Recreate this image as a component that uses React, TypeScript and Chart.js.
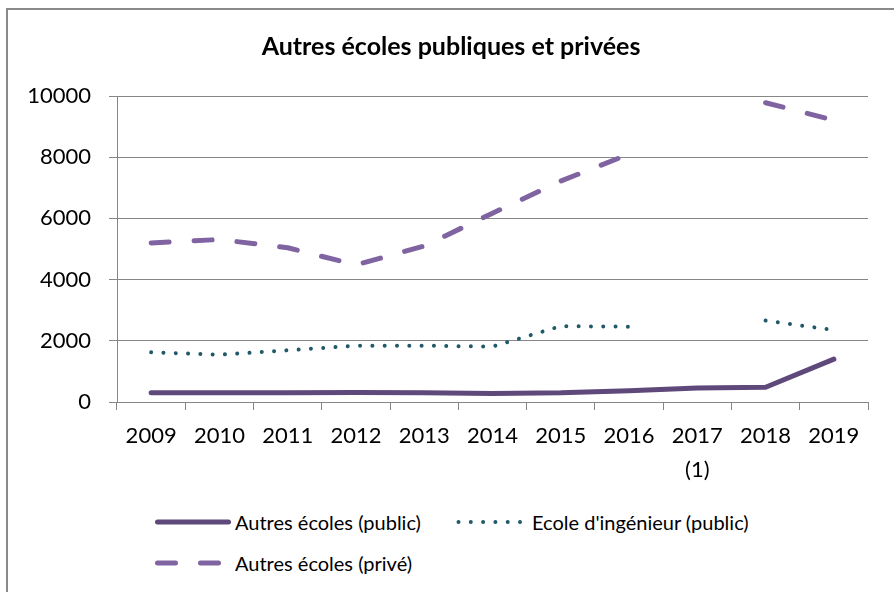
import React, { useEffect, useRef } from "react";
import { Chart, registerables } from "chart.js";

Chart.register(...registerables);

const titleText = "Autres écoles publiques et privées";
const categories: (string | string[])[] = ["2009", "2010", "2011", "2012", "2013", "2014", "2015", "2016", ["2017", "(1)"], "2018", "2019"];
const seriesNames = ["Autres écoles (public)", "Ecole d'ingénieur (public)", "Autres écoles (privé)"];
const publicValues = [300, 300, 300, 310, 300, 280, 300, 370, 460, 480, 1400];
const ingenieurValues = [1625, 1545, 1690, 1840, 1840, 1810, 2480, 2460, null, 2660, 2350];
const priveValues = [5200, 5310, 5040, 4480, 5100, 6170, 7220, 8100, null, 9780, 9210];
const yMin = 0;
const yMax = 10000;
const yStep = 2000;

const colors = ["#5F497A", "#215968", "#8064A2"];
const FONT = "Lato, 'Open Sans', sans-serif";

function LegendLine({ color, dash, width }: { color: string; dash?: string; width: number }) {
  return (
    <svg width={76} height={12} style={{ display: "block" }}>
      <line x1={2.5} y1={6} x2={dash === "dash" ? 66 : 73.5} y2={6} stroke={color} strokeWidth={width} strokeLinecap="round"
        strokeDasharray={dash === "dash" ? "18 25" : dash === "dot" ? "0 12.3" : undefined} />
    </svg>
  );
}

const titleShift = {
  id: "titleShift",
  afterLayout(chart: any) {
    const tb = chart.titleBlock;
    if (tb) tb.left = 34;
  },
};

export default function App() {
  const canvasRef = useRef<HTMLCanvasElement | null>(null);

  useEffect(() => {
    if (!canvasRef.current) return;
    const chart = new Chart(canvasRef.current, {
      type: "line",
      data: {
        labels: categories,
        datasets: [
          {
            label: seriesNames[0],
            data: publicValues,
            borderColor: colors[0],
            backgroundColor: colors[0],
            borderWidth: 5,
            borderCapStyle: "round",
            borderJoinStyle: "round",
            pointRadius: 0,
            tension: 0,
            spanGaps: false,
          },
          {
            label: seriesNames[1],
            data: ingenieurValues,
            borderColor: colors[1],
            backgroundColor: colors[1],
            borderWidth: 4,
            borderDash: [0.01, 12.3],
            borderCapStyle: "round",
            borderJoinStyle: "round",
            pointRadius: 0,
            tension: 0,
            spanGaps: false,
          },
          {
            label: seriesNames[2],
            data: priveValues,
            borderColor: colors[2],
            backgroundColor: colors[2],
            borderWidth: 5,
            borderDash: [18, 25],
            borderCapStyle: "round",
            borderJoinStyle: "round",
            pointRadius: 0,
            tension: 0,
            spanGaps: false,
          },
        ],
      },
      plugins: [titleShift],
      options: {
        responsive: false,
        animation: false,
        devicePixelRatio: 1,
        layout: { padding: { left: 0, right: 16, top: 0, bottom: 0 } },
        plugins: {
          legend: { display: false },
          tooltip: { enabled: false },
          title: {
            display: true,
            text: titleText,
            color: "#000",
            font: { family: FONT, size: 25, weight: "bold", lineHeight: 1.2 },
            padding: { top: 32, bottom: 34 },
          },
        },
        scales: {
          x: {
            type: "category",
            offset: true,
            afterFit: (scale: any) => { scale.height = 90; },
            grid: {
              offset: true,
              drawOnChartArea: false,
              drawTicks: true,
              tickLength: 8,
              color: "#868686",
              lineWidth: 1,
            },
            border: { display: true, color: "#868686", width: 1 },
            ticks: {
              color: "#000",
              font: { family: FONT, size: 22, lineHeight: 1.55 },
              padding: 9,
              maxRotation: 0,
              autoSkip: false,
            },
          },
          y: {
            min: yMin,
            max: yMax,
            afterFit: (scale: any) => { scale.width = 117; },
            grid: {
              drawTicks: true,
              tickLength: 8,
              color: "#868686",
              lineWidth: 1,
            },
            border: { display: true, color: "#868686", width: 1 },
            ticks: {
              stepSize: yStep,
              color: "#000",
              font: { family: FONT, size: 22 },
              padding: 18,
              callback: (v: any) => String(v),
            },
          },
        },
      },
    });
    return () => chart.destroy();
  }, []);

  const textStyle: React.CSSProperties = { fontFamily: FONT, fontSize: 20, color: "#000", whiteSpace: "nowrap", lineHeight: "24px" };

  return (
    <div style={{ position: "fixed", left: 0, top: 0, width: 894, height: 592, overflow: "hidden", background: "#fff" }}>
      <div style={{ position: "absolute", left: 6, top: 8, width: 2000, height: 2000, border: "2px solid #8a8a8a" }} />
      <canvas ref={canvasRef} width={884} height={492} style={{ position: "absolute", left: 0, top: 0, width: 884, height: 492 }} />
      <div style={{ position: "absolute", left: 155, top: 510, display: "flex", alignItems: "center" }}>
        <LegendLine color={colors[0]} width={5} />
        <span style={{ ...textStyle, marginLeft: 4 }}>{seriesNames[0]}</span>
      </div>
      <div style={{ position: "absolute", left: 456, top: 510, display: "flex", alignItems: "center" }}>
        <LegendLine color={colors[1]} width={4} dash="dot" />
        <span style={{ ...textStyle, marginLeft: 0 }}>{seriesNames[1]}</span>
      </div>
      <div style={{ position: "absolute", left: 155, top: 551, display: "flex", alignItems: "center" }}>
        <LegendLine color={colors[2]} width={5} dash="dash" />
        <span style={{ ...textStyle, marginLeft: 4 }}>{seriesNames[2]}</span>
      </div>
    </div>
  );
}
